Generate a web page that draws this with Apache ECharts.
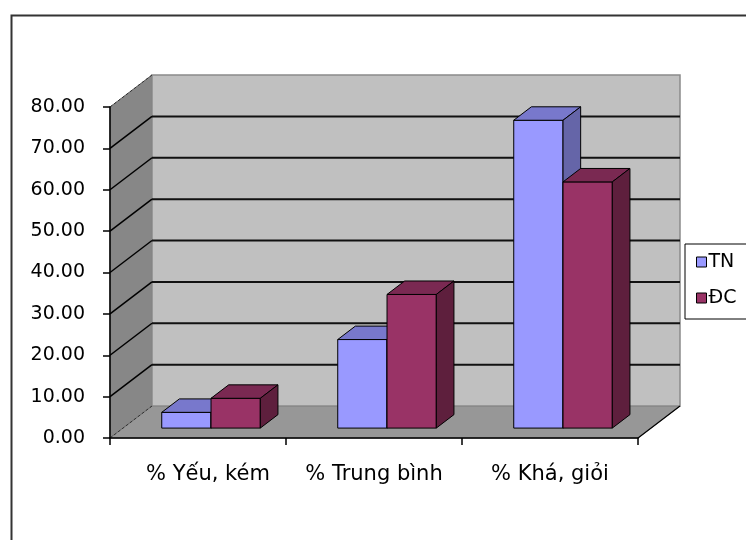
<!DOCTYPE html>
<html lang="vi">
  <head>
    <meta charset="UTF-8" />
    <title>TN - ĐC</title>
    <script src="https://cdnjs.cloudflare.com/ajax/libs/echarts/6.0.0/echarts.min.js"></script>
    <style>
      * {
        margin: 0;
        padding: 0;
      }
      body {
        background: #fff;
      }
      #chart {
        width: 746px;
        height: 540px;
      }
    </style>
  </head>
  <body>
    <div id="chart"></div>
    <script>
      const categories = ["% Yếu, kém", "% Trung bình", "% Khá, giỏi"];
      const tnValues = [3.8, 21.4, 74.4];
      const dcValues = [7.2, 32.3, 59.5];
      const yTicks = [0, 10, 20, 30, 40, 50, 60, 70, 80];

      // depth of the 3D box (px), and where the bars sit inside it
      const DX = 42, DY = -32;
      const BAR_D0 = 0.31, BAR_D = 0.42;
      const BAR_W = 0.28;

      const FONT = "DejaVu Sans";

      const myChart = echarts.init(document.getElementById("chart"));

      // walls, floor and gridlines of the 3D box
      function renderRoom(params, api) {
        const cs = params.coordSys;
        const x0 = cs.x, y0 = cs.y, x1 = cs.x + cs.width, y1 = cs.y + cs.height;
        const children = [
          {
            type: "polygon",
            shape: { points: [[x0, y0], [x0 + DX, y0 + DY], [x0 + DX, y1 + DY], [x0, y1]] },
            style: { fill: "#878787", stroke: "#666", lineWidth: 1 },
          },
          {
            type: "polygon",
            shape: { points: [[x0, y1], [x0 + DX, y1 + DY], [x1 + DX, y1 + DY], [x1, y1]] },
            style: { fill: "#979797", stroke: "#777", lineWidth: 1 },
          },
          {
            type: "rect",
            shape: { x: x0 + DX, y: y0 + DY, width: cs.width, height: cs.height },
            style: { fill: "#c0c0c0", stroke: "#8a8a8a", lineWidth: 1.5 },
          },
          {
            type: "line",
            shape: { x1: x1, y1: y1, x2: x1 + DX, y2: y1 + DY },
            style: { stroke: "#000", lineWidth: 1.2 },
          },
        ];
        yTicks.forEach(function (v) {
          const y = api.coord([0, v])[1];
          const edge = v === yTicks[0] || v === yTicks[yTicks.length - 1];
          children.push({
            type: "line",
            shape: { x1: x0, y1: y, x2: x0 + DX, y2: y + DY },
            style: { stroke: edge ? "#333" : "#000", lineWidth: edge ? 1 : 1.5, lineDash: edge ? [3, 2] : null },
          });
          if (!edge) {
            children.push({
              type: "line",
              shape: { x1: x0 + DX, y1: y + DY, x2: x1 + DX, y2: y + DY },
              style: { stroke: "#111", lineWidth: 2 },
            });
          }
        });
        return { type: "group", children: children };
      }

      function makeBarRenderer(offset, colors) {
        return function (params, api) {
          const idx = api.value(0);
          const base = api.coord([idx, 0]);
          const top = api.coord([idx, api.value(1)]);
          const catW = api.size([1, 0])[0];
          const w = catW * BAR_W;
          const ox = DX * BAR_D0, oy = DY * BAR_D0;
          const bx = DX * BAR_D, by = DY * BAR_D;
          const xl = base[0] + ox + offset * w;
          const xr = xl + w;
          const yb = base[1] + oy;
          const yt = top[1] + oy;
          const line = { stroke: "#000", lineWidth: 1, lineJoin: "round" };
          return {
            type: "group",
            children: [
              {
                type: "rect",
                shape: { x: xl, y: yt, width: w, height: yb - yt },
                style: Object.assign({ fill: colors[0] }, line),
              },
              {
                type: "polygon",
                shape: { points: [[xl, yt], [xr, yt], [xr + bx, yt + by], [xl + bx, yt + by]] },
                style: Object.assign({ fill: colors[1] }, line),
              },
              {
                type: "polygon",
                shape: { points: [[xr, yt], [xr + bx, yt + by], [xr + bx, yb + by], [xr, yb]] },
                style: Object.assign({ fill: colors[2] }, line),
              },
            ],
          };
        };
      }

      const option = {
        animation: false,
        color: ["#9999ff", "#993366"],
        graphic: [
          {
            type: "rect",
            left: 9,
            top: 13,
            shape: { width: 800, height: 600 },
            style: { fill: "none", stroke: "#333", lineWidth: 2 },
            z: 0,
          },
        ],
        grid: { left: 110, right: 108, top: 107, bottom: 102 },
        legend: {
          orient: "vertical",
          left: 685,
          top: 244,
          data: [
            { name: "TN", icon: "rect" },
            { name: "ĐC", icon: "rect" },
          ],
          itemWidth: 10,
          itemHeight: 10,
          itemGap: 16,
          padding: [8, 30, 11, 11],
          backgroundColor: "#fff",
          borderColor: "#000",
          borderWidth: 1,
          borderRadius: 0,
          itemStyle: { borderColor: "#000", borderWidth: 1 },
          textStyle: { fontFamily: FONT, fontSize: 19, color: "#000", lineHeight: 20, padding: [0, 0, 0, -3] },
        },
        xAxis: {
          type: "category",
          data: categories,
          z: 5,
          axisLine: { lineStyle: { color: "#000", width: 1.5 } },
          axisTick: { show: true, length: 7, lineStyle: { color: "#000", width: 1.5 } },
          axisLabel: {
            interval: 0,
            margin: 26,
            fontFamily: FONT,
            fontSize: 21,
            color: "#000",
            // the first label sits a little right of its slot in the original
            formatter: function (v, i) {
              return i === 0 ? "{first|" + v + "}" : v;
            },
            rich: {
              first: { fontFamily: FONT, fontSize: 21, color: "#000", padding: [0, 0, 0, 20] },
            },
          },
          splitLine: { show: false },
        },
        yAxis: {
          type: "value",
          min: 0,
          max: 80,
          interval: 10,
          z: 5,
          axisLine: { show: true, lineStyle: { color: "#000", width: 1.5 } },
          axisTick: { show: true, length: 7, lineStyle: { color: "#000", width: 1.5 } },
          axisLabel: {
            margin: 25,
            fontFamily: FONT,
            fontSize: 19,
            color: "#000",
            formatter: function (v) {
              return v.toFixed(2);
            },
          },
          splitLine: { show: false },
        },
        series: [
          {
            name: "room",
            type: "custom",
            silent: true,
            z: 1,
            renderItem: renderRoom,
            data: [[0, 0]],
          },
          {
            name: "TN",
            type: "custom",
            z: 2,
            itemStyle: { color: "#9999ff" },
            renderItem: makeBarRenderer(-1, ["#9999ff", "#7878cc", "#6565a8"]),
            data: tnValues.map(function (v, i) {
              return [i, v];
            }),
          },
          {
            name: "ĐC",
            type: "custom",
            z: 2,
            itemStyle: { color: "#993366" },
            renderItem: makeBarRenderer(0, ["#993366", "#7a2952", "#5e1f3d"]),
            data: dcValues.map(function (v, i) {
              return [i, v];
            }),
          },
        ],
      };
      myChart.setOption(option);
    </script>
  </body>
</html>
